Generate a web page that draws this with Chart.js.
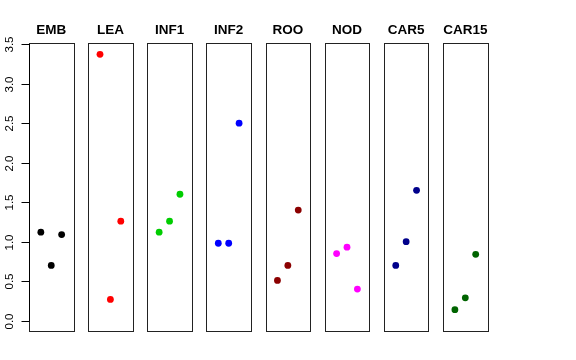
<!DOCTYPE html>
<html><head><meta charset="utf-8">
<script src="https://cdn.jsdelivr.net/npm/chart.js@4/dist/chart.umd.min.js"></script>
<style>
html,body{margin:0;padding:0;background:#fff;}
#wrap{position:relative;width:576px;height:360px;background:#fff;}
#wrap canvas{position:absolute;left:0;top:0;}
</style>
</head><body><div id="wrap"></div>
<script>
const categories = ['EMB','LEA','INF1','INF2','ROO','NOD','CAR5','CAR15'];
const EMB   = [1.12, 0.70, 1.09];
const LEA   = [3.37, 0.27, 1.26];
const INF1  = [1.12, 1.26, 1.60];
const INF2  = [0.98, 0.98, 2.50];
const ROO   = [0.51, 0.70, 1.40];
const NOD   = [0.85, 0.93, 0.40];
const CAR5  = [0.70, 1.00, 1.65];
const CAR15 = [0.14, 0.29, 0.84];
const seriesValues = [EMB, LEA, INF1, INF2, ROO, NOD, CAR5, CAR15];
const replicates = [1, 2, 3];
const yTicks = [0, 0.5, 1, 1.5, 2, 2.5, 3, 3.5];
const colors = ['#000000','#FF0000','#00CD00','#0000FF','#8B0000','#FF00FF','#00008B','#006400'];

const W = 576, H = 360;
const firstLeft = 29, step = 59.15, boxW = 44.5, boxTop = 43.3, boxBottom = 331;

const panelPlugin = {
  id: 'panel',
  afterDatasetsDraw(chart, args, opts) {
    const ctx = chart.ctx, a = chart.chartArea;
    ctx.save();
    ctx.strokeStyle = '#222';
    ctx.lineWidth = 1;
    ctx.strokeRect(Math.round(a.left) + 0.5, Math.round(a.top) + 0.5,
                   Math.round(a.right) - Math.round(a.left), Math.round(a.bottom) - Math.round(a.top));
    ctx.fillStyle = '#000';
    ctx.font = 'bold 13.5px "Liberation Sans", Arial, sans-serif';
    ctx.textAlign = 'center';
    ctx.textBaseline = 'alphabetic';
    ctx.fillText(opts.title, (a.left + a.right) / 2, 34);
    if (opts.axis) {
      const y = chart.scales.y;
      const x0 = Math.round(a.left) + 0.5;
      ctx.strokeStyle = '#000';
      ctx.beginPath();
      ctx.moveTo(x0, y.getPixelForValue(yTicks[0]));
      ctx.lineTo(x0, y.getPixelForValue(yTicks[yTicks.length - 1]));
      ctx.stroke();
      ctx.font = '11.5px "Liberation Sans", Arial, sans-serif';
      ctx.textBaseline = 'middle';
      yTicks.forEach(v => {
        const py = Math.round(y.getPixelForValue(v)) + 0.5;
        ctx.beginPath();
        ctx.moveTo(x0 - 8, py);
        ctx.lineTo(x0, py);
        ctx.stroke();
        ctx.save();
        ctx.translate(10, py);
        ctx.rotate(-Math.PI / 2);
        ctx.textAlign = 'center';
        ctx.fillText(v.toFixed(1), 0, 0);
        ctx.restore();
      });
    }
    ctx.restore();
  }
};

const wrap = document.getElementById('wrap');
categories.forEach((cat, i) => {
  const cv = document.createElement('canvas');
  cv.width = W; cv.height = H;
  cv.style.width = W + 'px'; cv.style.height = H + 'px';
  wrap.appendChild(cv);
  const left = firstLeft + i * step;
  new Chart(cv, {
    type: 'scatter',
    data: {
      datasets: [{
        label: cat,
        data: seriesValues[i].map((v, k) => ({ x: replicates[k], y: v })),
        backgroundColor: colors[i],
        borderColor: colors[i],
        pointRadius: 3.4,
        pointBorderWidth: 0,
        pointHoverRadius: 3.4
      }]
    },
    options: {
      responsive: false,
      devicePixelRatio: 1,
      animation: false,
      events: [],
      layout: { padding: { left: left, right: W - (left + boxW), top: boxTop, bottom: H - boxBottom } },
      scales: {
        x: { type: 'linear', min: -0.14, max: 4.14, display: false },
        y: { type: 'linear', min: -0.13, max: 3.51, display: false }
      },
      plugins: {
        legend: { display: false },
        tooltip: { enabled: false },
        title: { display: false },
        panel: { title: cat, axis: i === 0 }
      }
    },
    plugins: [panelPlugin]
  });
});
</script>
</body></html>
